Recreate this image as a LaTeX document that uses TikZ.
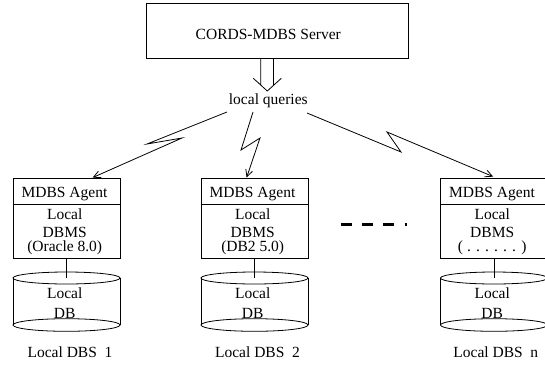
\documentclass[tikz,border=0pt]{standalone}
\usepackage{fontspec}
\setmainfont{Liberation Serif}
\usetikzlibrary{arrows.meta,calc}
\begin{document}
\begin{tikzpicture}[x=1pt, y=-1pt, line width=0.8pt,
  font=\fontsize{15.5}{18}\selectfont,
  box/.style={draw, minimum width=107pt, inner sep=0pt},
  txt/.style={anchor=base, inner sep=0pt},
  link/.style={-{Straight Barb[length=7pt,width=7pt]}},
  dots/.style={line width=2.8pt}]
\useasboundingbox (0,0) rectangle (545,364);

% server
\node[box, minimum width=262pt, minimum height=55pt] (server) at (277,30.5) {};
\node[txt] (servertxt) at (268.3,39) {CORDS-MDBS Server};
\node[txt] (queries) at (268.3,104) {local queries};

% hollow down arrow from the server to the queries label
\coordinate (sh) at (267.3,58);
\coordinate (tip) at (267.3,91);
\draw ($(sh)+(-6.6,0)$) -- ($(sh)+(-6.6,27)$)
      ($(sh)+(6.2,0)$) -- ($(sh)+(6.2,27.4)$)
      ($(tip)+(-14,-12.7)$) -- (tip) -- ($(tip)+(14,-12.7)$);

% local sites
\foreach \n/\cx/\sys/\lx in {1/66.5/(Oracle 8.0)/70,
                            2/254.5/(DB2 5.0)/257.5,
                            n/494/( . . . . . . )/495.8}{
  \node[box, minimum height=26pt] (agent\n) at (\cx,191) {};
  \node[box, minimum height=54pt] (dbms\n) at (\cx,231) {};
  \node[txt] (agenttxt\n) at (\cx-2,197.5) {MDBS Agent};
  \node[txt] (dbmsa\n) at (\cx-1.8,219) {Local};
  \node[txt] (dbmsb\n) at (\cx-1.8,237.5) {DBMS};
  \node[txt] (dbmsc\n) at (\cx-1.8,251) {\sys};
  % database cylinder
  \coordinate (dbtop\n) at (\cx,278);
  \coordinate (dbbot\n) at (\cx,325);
  \draw ($(dbtop\n)+(-53.5,0)$) -- ($(dbbot\n)+(-53.5,0)$)
        ($(dbtop\n)+(53.5,0)$) -- ($(dbbot\n)+(53.5,0)$);
  \draw (dbtop\n) ellipse [x radius=53.5, y radius=6];
  \draw (dbbot\n) ellipse [x radius=53.5, y radius=6.3];
  \node[txt] (dba\n) at (\cx-1.8,298.3) {Local};
  \node[txt] (dbb\n) at (\cx-1.8,318.3) {DB};
  \draw (dbms\n.south) -- (dbtop\n);
  \node[txt] (site\n) at (\lx,357.7) {Local DBS\ \ \n};
}

% lightning links from the queries label to the agents
\coordinate (q1) at (227,112);
\coordinate (q2) at (253,112);
\coordinate (q3) at (307,113);
\coordinate (z1a) at (147,144);  \coordinate (z1b) at (182,138);
\coordinate (z2a) at (241,150);  \coordinate (z2b) at (260,138);
\coordinate (z3a) at (401,152);  \coordinate (z3b) at (387,132);
\draw[link] (q1) -- (z1a) -- (z1b) -- ($(agent1.north west)+(80,0)$);
\draw[link] (q2) -- (z2a) -- (z2b) -- ($(agent2.north west)+(46,0)$);
\draw[link] (q3) -- (z3a) -- (z3b) -- ($(agentn.north west)+(53,-1)$);

% ellipsis between the sites
\draw[dots] (341,224.7) -- (352,224.7)
            (362,224.7) -- (373,224.7)
            (383,224.7) -- (394,224.7)
            (404.7,224.7) -- (407.4,224.7);
\end{tikzpicture}
\end{document}
